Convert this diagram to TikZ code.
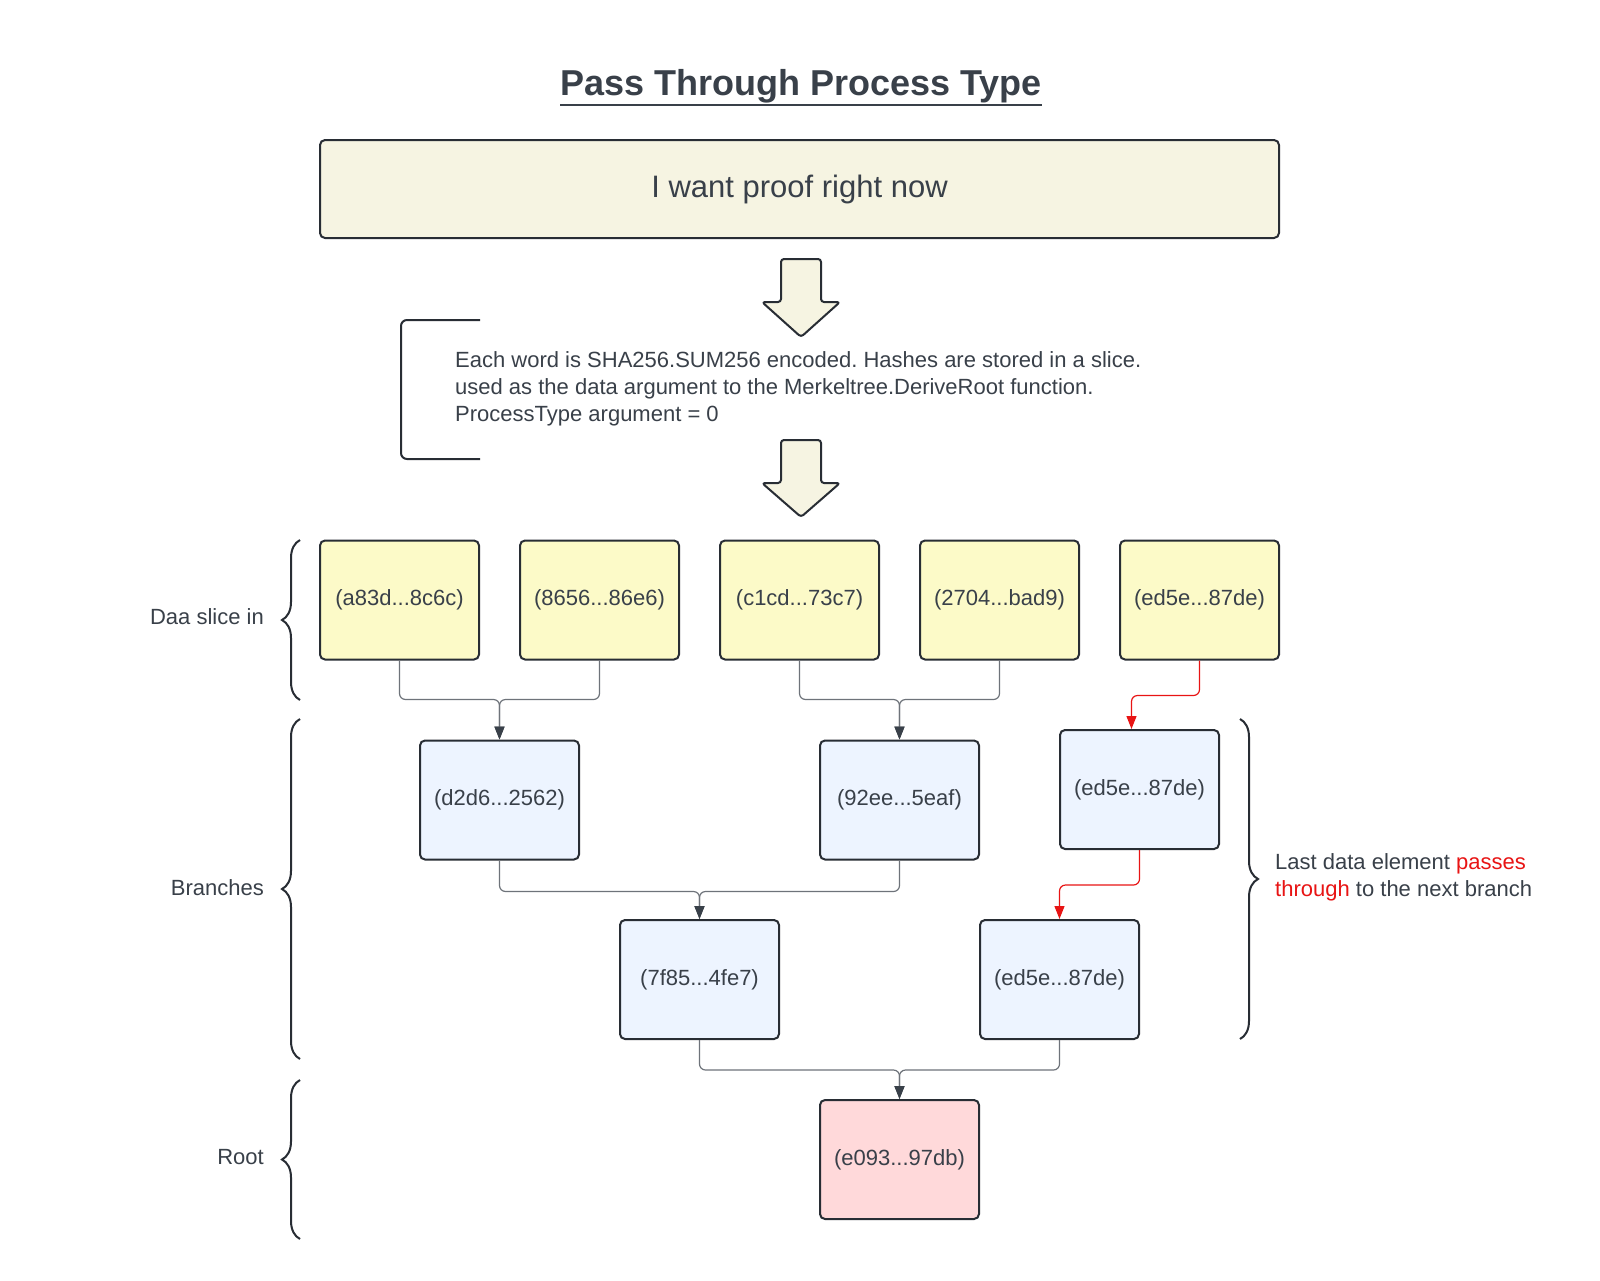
\documentclass[tikz,border=0pt]{standalone}
\usepackage{fontspec}
\setmainfont{Liberation Sans}
\usetikzlibrary{arrows.meta,decorations.pathreplacing,calc}
\definecolor{txt}{HTML}{394049}
\definecolor{edge}{HTML}{282D34}
\definecolor{creamfill}{HTML}{F6F4E2}
\definecolor{yel}{HTML}{FCFAC8}
\definecolor{blu}{HTML}{EDF4FF}
\definecolor{pnk}{HTML}{FFD9DA}
\definecolor{redline}{HTML}{E81414}
\definecolor{grayline}{HTML}{6E737A}
\frenchspacing
\begin{document}
\begin{tikzpicture}[x=1pt,y=-1pt,
  hashbox/.style={draw=edge, line width=2pt, rounded corners=5pt, minimum width=159pt, minimum height=119pt, inner sep=0pt, font=\fontsize{22}{26}\selectfont, text=txt},
  databox/.style={hashbox, fill=yel},
  branchbox/.style={hashbox, fill=blu},
  rootbox/.style={hashbox, fill=pnk},
  conn/.style={draw=grayline, line width=1.2pt, rounded corners=6pt, -{Triangle[length=13pt,width=10pt,color=txt,fill=txt]}},
  redconn/.style={draw=redline, line width=1.2pt, rounded corners=6pt, -{Triangle[length=13pt,width=10pt,color=redline,fill=redline]}},
  blockarrow/.style={draw=edge, line width=2pt, fill=creamfill, rounded corners=3pt, line join=round},
  bracestyle/.style={draw=edge, line width=2pt, decorate, decoration={brace, amplitude=18pt}},
  lbl/.style={font=\fontsize{22}{27}\selectfont, text=txt, inner sep=0pt}
]
\useasboundingbox[fill=white] (0,0) rectangle (1600,1280);

% title
\node[font=\bfseries\fontsize{36}{40}\selectfont, text=txt, inner sep=0pt] (title) at (801,86) {Pass Through Process Type};
\draw[draw=txt, line width=2.5pt] ([yshift=-10pt]title.base west) -- ([yshift=-10pt]title.base east);

% top box
\node[draw=edge, line width=2pt, rounded corners=5pt, fill=creamfill, minimum width=959pt, minimum height=98pt, font=\fontsize{31}{36}\selectfont, text=txt] (want) at (799.5,189) {I want proof right now};

% block arrows
\draw[blockarrow] (781,259) -- (821,259) -- (821,302) -- (840,302) -- (801,337) -- (762,302) -- (781,302) -- cycle;
\draw[blockarrow] (781,440) -- (821,440) -- (821,483) -- (840,483) -- (801,517) -- (762,483) -- (781,483) -- cycle;

% bracket and explanation
\draw[draw=edge, line width=2pt, rounded corners=6pt] (480,320) -- (401,320) -- (401,459) -- (480,459);
\node[lbl, anchor=west, align=left] (expl) at (455,389) {Each word is SHA256.SUM256 encoded. Hashes are stored in a slice.\\used as the data argument to the Merkeltree.DeriveRoot function.\\ProcessType argument = 0};

% data slice
\node[databox] (d1) at (399.5,600) {(a83d...8c6c)};
\node[databox] (d2) at (599.5,600) {(8656...86e6)};
\node[databox] (d3) at (799.5,600) {(c1cd...73c7)};
\node[databox] (d4) at (999.5,600) {(2704...bad9)};
\node[databox] (d5) at (1199.5,600) {(ed5e...87de)};

% branches
\node[branchbox] (b1) at (499.5,800) {(d2d6...2562)};
\node[branchbox] (b2) at (899.5,800) {(92ee...5eaf)};
\node[branchbox] (b3) at (1139.5,789.5) {(ed5e...87de)};
\node[branchbox] (b4) at (699.5,979.5) {(7f85...4fe7)};
\node[branchbox] (b5) at (1059.5,979.5) {(ed5e...87de)};

% root
\node[rootbox] (root) at (899.5,1159.5) {(e093...97db)};

% connectors
\draw[conn] (d1.south) -- ++(0,39) -| (b1.north);
\draw[conn] (d2.south) -- ++(0,39) -| (b1.north);
\draw[conn] (d3.south) -- ++(0,39) -| (b2.north);
\draw[conn] (d4.south) -- ++(0,39) -| (b2.north);
\draw[redconn] (d5.south) -- ++(0,35) -| ([xshift=-8pt]b3.north);
\draw[conn] (b1.south) -- ++(0,31) -| (b4.north);
\draw[conn] (b2.south) -- ++(0,31) -| (b4.north);
\draw[redconn] (b3.south) -- ++(0,35) -| (b5.north);
\draw[conn] (b4.south) -- ++(0,30) -| (root.north);
\draw[conn] (b5.south) -- ++(0,30) -| (root.north);

% braces and labels
\draw[bracestyle] (300,700) -- (300,540);
\draw[bracestyle] (300,1059) -- (300,719);
\draw[bracestyle] (300,1239) -- (300,1080);
\draw[bracestyle] (1240,719) -- (1240,1039);

\node[lbl, anchor=east] (ldata) at (264,617) {Daa slice in};
\node[lbl, anchor=east] (lbranch) at (264,888) {Branches};
\node[lbl, anchor=east] (lroot) at (264,1157) {Root};
\node[lbl, anchor=west, align=left] (lpass) at (1275,877) {Last data element \textcolor{redline}{passes}\\\textcolor{redline}{through} to the next branch};
\end{tikzpicture}
\end{document}
